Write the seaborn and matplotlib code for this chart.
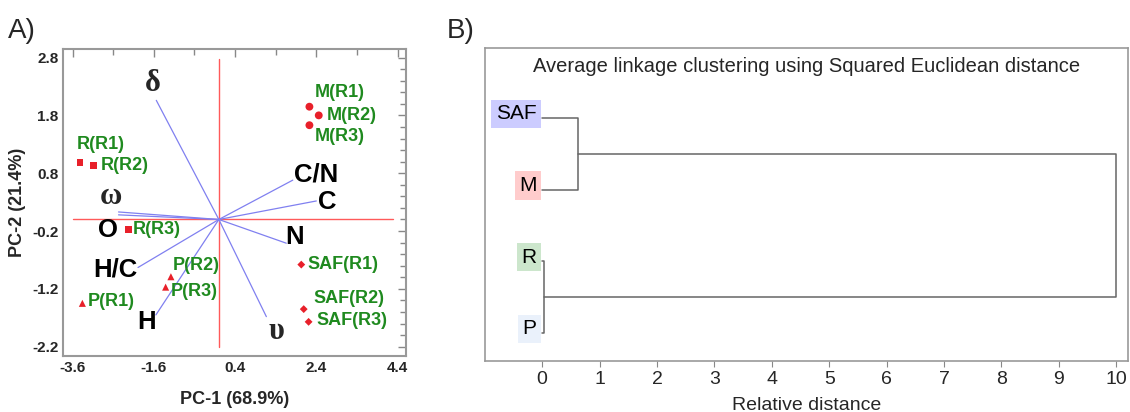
import numpy as np
import pandas as pd
import seaborn as sns
import matplotlib
matplotlib.use('Agg')
import matplotlib.pyplot as plt
from matplotlib.ticker import FixedLocator

# ---- panel A data (PCA biplot) ----
sample_names = ['M(R1)', 'M(R2)', 'M(R3)', 'R(R1)', 'R(R2)', 'R(R3)',
                'P(R1)', 'P(R2)', 'P(R3)', 'SAF(R1)', 'SAF(R2)', 'SAF(R3)']
sample_group = ['M', 'M', 'M', 'R', 'R', 'R', 'P', 'P', 'P', 'SAF', 'SAF', 'SAF']
pc1 = [2.23, 2.46, 2.23, -3.42, -3.09, -2.23, -3.36, -1.18, -1.31, 2.03, 2.09, 2.21]
pc2 = [1.95, 1.80, 1.63, 0.99, 0.93, -0.17, -1.45, -0.99, -1.17, -0.78, -1.55, -1.77]
# where each sample label sits
lab_x = [2.35, 2.66, 2.35, -3.49, -2.91, -2.11, -3.22, -1.13, -1.19, 2.19, 2.33, 2.40]
lab_y = [2.19, 1.80, 1.43, 1.30, 0.93, -0.18, -1.42, -0.80, -1.25, -0.78, -1.36, -1.75]

var_names = ['δ', 'ω', 'O', 'H/C', 'H', 'υ', 'N', 'C', 'C/N']
load_x = [-1.54, -2.47, -2.47, -1.99, -1.55, 1.17, 1.66, 2.40, 1.82]
load_y = [2.06, 0.13, 0.08, -0.83, -1.65, -1.68, -0.41, 0.32, 0.68]
var_lab_x = [-1.62, -2.66, -2.73, -2.54, -1.78, 1.41, 1.86, 2.68, 2.40]
var_lab_y = [2.35, 0.39, -0.18, -0.86, -1.77, -1.94, -0.31, 0.31, 0.77]

# ---- panel B data (dendrogram) ----
leaves = ['SAF', 'M', 'R', 'P']
leaf_colors = ['#ccccff', '#ffcccc', '#cce6cc', '#eaf1fb']
merge_saf_m = 0.63
merge_r_p = 0.04
merge_top = 10.0

sns.set_style('white')
plt.rcParams['font.family'] = ['Liberation Sans', 'DejaVu Sans']
plt.rcParams['axes.unicode_minus'] = False

fig = plt.figure(figsize=(11.3, 4.12), dpi=100)
axA = fig.add_axes([0.056, 0.136, 0.303, 0.744])
axB = fig.add_axes([0.429, 0.124, 0.569, 0.760])

# ---------- A ----------
axA.plot([-3.6, 4.3], [0, 0], color='#ff5a5a', lw=1.0, zorder=1)
axA.plot([0, 0], [-2.2, 2.78], color='#ff5a5a', lw=1.0, zorder=1)
greek = ['δ', 'ω', 'υ']
for i in range(len(var_names)):
    axA.plot([0, load_x[i]], [0, load_y[i]], color='#8080f0', lw=0.9, zorder=2)
    if var_names[i] in greek:
        axA.text(var_lab_x[i], var_lab_y[i], var_names[i], fontsize=22, fontweight='bold',
                 family=['Liberation Serif', 'DejaVu Serif'], ha='center', va='center')
    else:
        axA.text(var_lab_x[i], var_lab_y[i], var_names[i], fontsize=18.5, fontweight='bold',
                 ha='center', va='center', color='black')

df = pd.DataFrame({'pc1': pc1, 'pc2': pc2, 'group': sample_group})
sns.scatterplot(data=df, x='pc1', y='pc2', style='group', size='group',
                markers={'M': 'o', 'R': 's', 'P': '^', 'SAF': 'D'},
                sizes={'M': 32, 'R': 24, 'P': 26, 'SAF': 16},
                color='#e8202a', edgecolor='none', legend=False, ax=axA, zorder=3)
for i in range(len(sample_names)):
    axA.text(lab_x[i], lab_y[i], sample_names[i], fontsize=13, fontweight='bold',
             color='#1f8a1f', ha='left', va='center')

axA.set_xlim(-3.83, 4.6)
axA.set_ylim(-2.36, 2.94)
axA.xaxis.set_major_locator(FixedLocator([-3.6, -1.6, 0.4, 2.4, 4.4]))
axA.xaxis.set_minor_locator(FixedLocator(np.arange(-3.6, 4.5, 1.0)))
axA.yaxis.set_major_locator(FixedLocator([-2.2, -1.2, -0.2, 0.8, 1.8, 2.8]))
axA.yaxis.set_minor_locator(FixedLocator(np.arange(-2.2, 2.9, 0.2)))
axA.tick_params(which='both', direction='in', top=True, right=True, color='#888888')
axA.tick_params(which='major', length=6, width=1, labelsize=11)
axA.tick_params(which='minor', length=4, width=1)
for lab in axA.get_xticklabels() + axA.get_yticklabels():
    lab.set_fontweight('bold')
for sp in axA.spines.values():
    sp.set_color('#999999')
    sp.set_linewidth(1.5)
axA.set_xlabel('PC-1 (68.9%)', fontsize=13, fontweight='bold', labelpad=12)
axA.set_ylabel('PC-2 (21.4%)', fontsize=13, fontweight='bold', labelpad=4)

# ---------- B ----------
ypos = {'SAF': 3, 'M': 2, 'R': 1, 'P': 0}
lc = '#666666'
y_top = (ypos['SAF'] + ypos['M']) / 2
y_bot = (ypos['R'] + ypos['P']) / 2
axB.plot([0, merge_saf_m, merge_saf_m, 0], [ypos['SAF'], ypos['SAF'], ypos['M'], ypos['M']], color=lc, lw=1.1)
axB.plot([0, merge_r_p, merge_r_p, 0], [ypos['R'], ypos['R'], ypos['P'], ypos['P']], color=lc, lw=1.1)
axB.plot([merge_saf_m, merge_top, merge_top, merge_r_p], [y_top, y_top, y_bot, y_bot], color=lc, lw=1.1)
for name, col in zip(leaves, leaf_colors):
    axB.annotate(name, xy=(0, ypos[name]), xytext=(-4, 3), textcoords='offset points',
                 ha='right', va='center', fontsize=15, color='black',
                 bbox=dict(boxstyle='square,pad=0.22', fc=col, ec='none'))

axB.set_xlim(-1.0, 10.2)
axB.set_ylim(-0.39, 3.98)
axB.set_xticks(range(0, 11))
axB.set_yticks([])
axB.tick_params(axis='x', direction='out', length=4, color='#888888', labelsize=14, bottom=True)
for sp in axB.spines.values():
    sp.set_color('#999999')
    sp.set_linewidth(1.2)
axB.set_xlabel('Relative distance', fontsize=14, labelpad=6)
axB.text(0.5, 0.94, 'Average linkage clustering using Squared Euclidean distance',
         transform=axB.transAxes, ha='center', va='center', fontsize=14.5)

fig.text(0.007, 0.925, 'A)', fontsize=20, ha='left', va='center')
fig.text(0.395, 0.925, 'B)', fontsize=20, ha='left', va='center')

fig.savefig('out.png', dpi=100)
